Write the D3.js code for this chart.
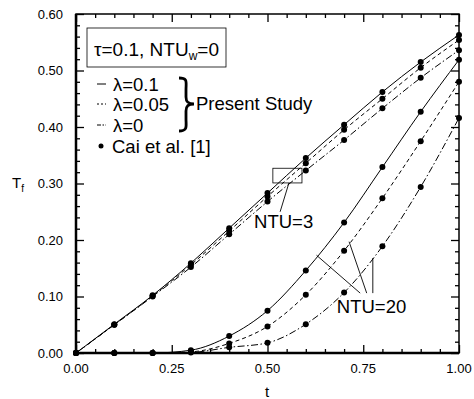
<!DOCTYPE html>
<html>
<head>
<meta charset="utf-8">
<script src="https://cdn.jsdelivr.net/npm/d3@7"></script>
<style>
  body { margin: 0; background: #fff; }
  text { font-family: "Liberation Sans", Arial, sans-serif; fill: #000; }
</style>
</head>
<body>
<script>
// values, t = 0 .. 1 in steps of 0.1
var times = [0, 0.1, 0.2, 0.3, 0.4, 0.5, 0.6, 0.7, 0.8, 0.9, 1.0];

var ntu3Lam01  = [0, 0.051, 0.102, 0.159, 0.221, 0.283, 0.345, 0.404, 0.462, 0.515, 0.563];
var ntu3Lam005 = [0, 0.050, 0.101, 0.156, 0.216, 0.277, 0.336, 0.395, 0.450, 0.505, 0.554];
var ntu3Lam0   = [0, 0.050, 0.100, 0.152, 0.210, 0.268, 0.323, 0.377, 0.433, 0.487, 0.536];

var ntu20Lam01  = [0, 0, 0, 0.005, 0.030, 0.075, 0.146, 0.231, 0.329, 0.427, 0.519];
var ntu20Lam005 = [0, 0, 0, 0.002, 0.017, 0.047, 0.103, 0.181, 0.274, 0.375, 0.480];
var ntu20Lam0   = [0, 0, 0, 0.001, 0.010, 0.018, 0.051, 0.107, 0.189, 0.294, 0.416];

var xTickLabels = [0, 0.25, 0.5, 0.75, 1.0];
var yTickLabels = [0, 0.1, 0.2, 0.3, 0.4, 0.5, 0.6];

var legendNames = ["\u03bb=0.1", "\u03bb=0.05", "\u03bb=0"];

var width = 474, height = 399;
var margin = {left: 76, top: 14, right: 15, bottom: 46};
var w = width - margin.left - margin.right,
    h = height - margin.top - margin.bottom;

var dashes = [null, "4,3", "7,2.5,1.5,2.5"];
var labelSize = "18.5px";

var svg = d3.select("body").append("svg")
    .attr("width", width)
    .attr("height", height);

var g = svg.append("g")
    .attr("transform", "translate(" + margin.left + "," + margin.top + ")");

var x = d3.scaleLinear().domain([0, 1]).range([0, w]);
var y = d3.scaleLinear().domain([0, 0.6]).range([h, 0]);

// ticks, all pointing inward
var minorX = d3.range(0, 1.0001, 0.05), minorY = d3.range(0, 0.6001, 0.02);
function isMajor(v, step) { return Math.abs(v / step - Math.round(v / step)) < 1e-6; }

g.append("g").attr("transform", "translate(0," + h + ")")
  .call(d3.axisBottom(x).tickValues(minorX).tickSizeOuter(0).tickFormat(""))
  .call(function(a) { a.selectAll(".tick line").attr("y2", function(d) { return isMajor(d, 0.25) ? -8 : -4; }); });
g.append("g")
  .call(d3.axisTop(x).tickValues(minorX).tickSizeOuter(0).tickFormat(""))
  .call(function(a) { a.selectAll(".tick line").attr("y2", function(d) { return isMajor(d, 0.25) ? 8 : 4; }); });
g.append("g")
  .call(d3.axisLeft(y).tickValues(minorY).tickSizeOuter(0).tickFormat(""))
  .call(function(a) { a.selectAll(".tick line").attr("x2", function(d) { return isMajor(d, 0.1) ? 8 : 4; }); });
g.append("g").attr("transform", "translate(" + w + ",0)")
  .call(d3.axisRight(y).tickValues(minorY).tickSizeOuter(0).tickFormat(""))
  .call(function(a) { a.selectAll(".tick line").attr("x2", function(d) { return isMajor(d, 0.1) ? -8 : -4; }); });
g.selectAll(".domain").remove();
g.selectAll(".tick line").attr("stroke", "#000").attr("stroke-width", 1.3);

// frame
g.append("rect").attr("width", w).attr("height", h)
  .attr("fill", "none").attr("stroke", "#000").attr("stroke-width", 1.5);
g.append("line").attr("x1", 0).attr("x2", 0).attr("y1", 0).attr("y2", h)
  .attr("stroke", "#000").attr("stroke-width", 2.5);
g.append("line").attr("x1", 0).attr("x2", w).attr("y1", h).attr("y2", h)
  .attr("stroke", "#000").attr("stroke-width", 2.5);

// tick labels
var fmt = d3.format(".2f");
g.selectAll(".xl").data(xTickLabels).enter().append("text")
  .attr("x", function(d) { return x(d); })
  .attr("y", h + 20)
  .attr("text-anchor", "middle")
  .style("font-size", "13px")
  .text(fmt);
g.selectAll(".yl").data(yTickLabels).enter().append("text")
  .attr("x", -13)
  .attr("y", function(d) { return y(d) + 4.5; })
  .attr("text-anchor", "end")
  .style("font-size", "13px")
  .text(fmt);

// axis titles
svg.append("text").attr("x", 267).attr("y", 397).attr("text-anchor", "middle")
  .style("font-size", "15px").text("t");
var tf = svg.append("text").attr("x", 12).attr("y", 188).style("font-size", "15px");
tf.append("tspan").text("T");
tf.append("tspan").attr("dy", 4).style("font-size", "10px").text("f");

// curves
var line = d3.line()
  .x(function(d) { return x(d[0]); })
  .y(function(d) { return y(d[1]); })
  .curve(d3.curveMonotoneX);

var series = [
  {vals: ntu3Lam01, s: 0}, {vals: ntu3Lam005, s: 1}, {vals: ntu3Lam0, s: 2},
  {vals: ntu20Lam01, s: 0}, {vals: ntu20Lam005, s: 1}, {vals: ntu20Lam0, s: 2}
];

series.forEach(function(sr) {
  var pts = times.map(function(t, i) { return [t, sr.vals[i]]; });
  g.append("path").datum(pts)
    .attr("d", line)
    .attr("fill", "none")
    .attr("stroke", "#000")
    .attr("stroke-width", 1)
    .attr("stroke-dasharray", dashes[sr.s]);
  g.selectAll(null).data(pts).enter().append("circle")
    .attr("cx", function(d) { return x(d[0]); })
    .attr("cy", function(d) { return y(d[1]); })
    .attr("r", 3)
    .attr("fill", "#000");
});

// NTU=3 annotation
g.append("rect")
  .attr("x", x(0.514)).attr("y", y(0.327))
  .attr("width", x(0.590) - x(0.514)).attr("height", y(0.301) - y(0.327))
  .attr("fill", "none").attr("stroke", "#000").attr("stroke-width", 0.8);
g.append("line")
  .attr("x1", x(0.556)).attr("y1", y(0.301)).attr("x2", x(0.533)).attr("y2", y(0.250))
  .attr("stroke", "#000").attr("stroke-width", 0.9);
g.append("text").attr("x", x(0.465)).attr("y", y(0.221))
  .style("font-size", labelSize).text("NTU=3");

// NTU=20 annotation
var leaders = [[0.628, 0.173, 0.742, 0.106], [0.713, 0.197, 0.759, 0.106], [0.775, 0.168, 0.775, 0.106]];
g.selectAll(".ld").data(leaders).enter().append("line")
  .attr("x1", function(d) { return x(d[0]); }).attr("y1", function(d) { return y(d[1]); })
  .attr("x2", function(d) { return x(d[2]); }).attr("y2", function(d) { return y(d[3]); })
  .attr("stroke", "#000").attr("stroke-width", 0.9);
g.append("text").attr("x", x(0.681)).attr("y", y(0.071))
  .style("font-size", labelSize).text("NTU=20");

// parameter box
svg.append("rect").attr("x", 87).attr("y", 28).attr("width", 139).attr("height", 39)
  .attr("fill", "#fff").attr("stroke", "#000").attr("stroke-width", 0.8);
var pt = svg.append("text").attr("x", 94).attr("y", 56).style("font-size", "19px");
pt.append("tspan").text("\u03c4=0.1, NTU");
pt.append("tspan").attr("dy", 4).style("font-size", "12px").text("w");
pt.append("tspan").attr("dy", -4).text("=0");

// legend
var rowY = [84, 104, 125];
legendNames.forEach(function(name, i) {
  svg.append("line").attr("x1", 97).attr("x2", 106).attr("y1", rowY[i]).attr("y2", rowY[i])
    .attr("stroke", "#000").attr("stroke-width", 1)
    .attr("stroke-dasharray", i === 1 ? "2,2" : (i === 2 ? "4,1.5,1.5,1.5" : null));
  svg.append("text").attr("x", 113).attr("y", rowY[i] + 6.5).style("font-size", labelSize).text(name);
});
svg.append("circle").attr("cx", 101).attr("cy", 146).attr("r", 2.5).attr("fill", "#000");
svg.append("text").attr("x", 112).attr("y", 152.5).style("font-size", labelSize).text("Cai et al. [1]");

// brace
svg.append("path")
  .attr("d", "M179,78 C188,78 186,82 186,90 L186,97 C186,102 188,104 194,104 C188,104 186,106 186,111 L186,119 C186,126 188,131 179,131")
  .attr("fill", "none").attr("stroke", "#000").attr("stroke-width", 2.8);
svg.append("text").attr("x", 196).attr("y", 110).style("font-size", labelSize).text("Present Study");
</script>
</body>
</html>
